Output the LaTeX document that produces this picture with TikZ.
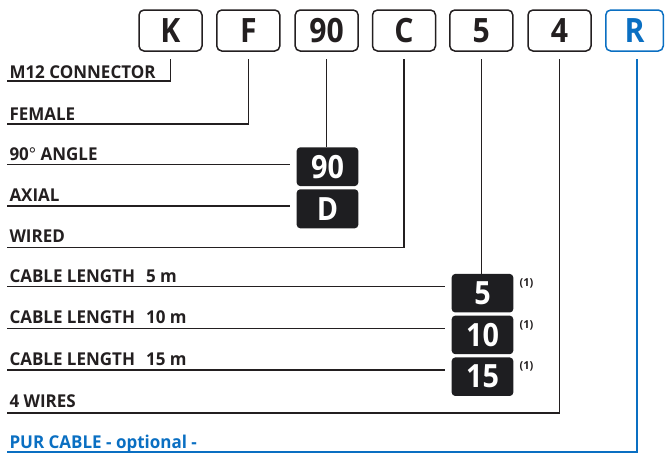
\documentclass[tikz,border=0pt]{standalone}
\usepackage{fontspec}
\setmainfont{Open Sans}
\newfontfamily\labfont{Open Sans}[FakeStretch=0.96]
\newfontfamily\boxfont{Open Sans}[FakeStretch=0.9]
\definecolor{ink}{HTML}{231F20}
\definecolor{boxfill}{HTML}{1E1E21}
\definecolor{pblue}{HTML}{0A6FC2}
\begin{document}
\begin{tikzpicture}[x=1pt,y=-1pt,
  conn/.style={draw=ink, line width=1.1pt},
  bconn/.style={draw=pblue, line width=1.3pt},
  topbox/.style={draw=ink, line width=1.5pt, rounded corners=5pt, minimum width=63pt, minimum height=41pt, inner sep=0pt, font=\boxfont\fontsize{33.5}{33.5}\selectfont\bfseries, text=ink},
  blk/.style={fill=boxfill, rounded corners=3.5pt, minimum width=61.6pt, minimum height=38.5pt, inner sep=0pt, text=white, font=\boxfont\fontsize{32}{32}\selectfont\bfseries},
  lab/.style={anchor=base west, inner sep=0pt, text=ink, font=\labfont\fontsize{17.7}{17.7}\selectfont\bfseries},
  note/.style={inner sep=0pt, text=ink, font=\fontsize{11}{11}\selectfont\bfseries}]
\useasboundingbox (0,0) rectangle (665,453);
% top code boxes
\node[topbox] (k) at (170.5,30.5) {K};
\node[topbox] (f) at (248.3,30.5) {F};
\node[topbox] (n90) at (326.7,30.5) {90};
\node[topbox] (c) at (404,30.5) {C};
\node[topbox] (n5) at (481.3,30.5) {5};
\node[topbox] (n4) at (559.5,30.5) {4};
\node[topbox, draw=pblue, text=pblue, minimum width=57.5pt] (r) at (634.5,30.5) {R};
% option boxes
\node[blk, minimum height=38.7pt] (b90) at (327.5,166.7) {90};
\node[blk, minimum height=39pt] (bd) at (327.5,208.8) {D};
\node[blk] (b5) at (482.5,293.2) {5};
\node[blk] (b10) at (482.5,334.9) {10};
\node[blk] (b15) at (482.5,376.7) {15};
\node[note] (f1) at (526.5,283.5) {(1)};
\node[note] (f2) at (526.5,325) {(1)};
\node[note] (f3) at (526.5,366.5) {(1)};
% labels
\node[lab] (t1) at (9.3,78.3) {M12 CONNECTOR};
\node[lab] (t2) at (9.3,120) {FEMALE};
\node[lab] (t3) at (9.3,160.5) {90{\mdseries°} ANGLE};
\node[lab] (t4) at (9.3,201.7) {AXIAL};
\node[lab] (t5) at (9.3,242.3) {WIRED};
\node[lab] (t6) at (9.3,282.7) {CABLE LENGTH\hspace{11pt}5 m};
\node[lab] (t7) at (9.3,323.3) {CABLE LENGTH\hspace{11pt}10 m};
\node[lab] (t8) at (9.3,365.3) {CABLE LENGTH\hspace{11pt}15 m};
\node[lab] (t9) at (9.3,407.7) {4 WIRES};
\node[lab, text=pblue] (t10) at (9.3,448.3) {PUR CABLE - optional -};
% line end coordinates
\coordinate (u1) at (7.3,81);
\coordinate (u2) at (7.3,124);
\coordinate (u3) at (7.3,164.3);
\coordinate (e3) at (290,164.3);
\coordinate (u4) at (7.3,206);
\coordinate (e4) at (290,206);
\coordinate (u5) at (7.3,247.3);
\coordinate (u6) at (7.3,286.7);
\coordinate (e6) at (445,286.7);
\coordinate (u7) at (7.3,328.2);
\coordinate (e7) at (445,328.2);
\coordinate (u8) at (7.3,370);
\coordinate (e8) at (445,370);
\coordinate (u9) at (7.3,413);
\coordinate (u10) at (7.3,452);
% connectors
\draw[conn] ([yshift=-7.5pt]k.south) |- (u1);
\draw[conn] ([yshift=-7.5pt]f.south) |- (u2);
\draw[conn] ([yshift=-7.5pt]n90.south) -- (n90.south |- b90.north);
\draw[conn] (u3) -- (e3);
\draw[conn] (u4) -- (e4);
\draw[conn] ([yshift=-7.5pt]c.south) |- (u5);
\draw[conn] ([yshift=-7.5pt]n5.south) -- (n5.south |- b5.north);
\draw[conn] (u6) -- (e6);
\draw[conn] (u7) -- (e7);
\draw[conn] (u8) -- (e8);
\draw[conn] ([yshift=-7.5pt]n4.south) |- (u9);
\draw[bconn] ([yshift=-7.5pt]r.south) ++(2.5,0) |- (u10);
\end{tikzpicture}
\end{document}
